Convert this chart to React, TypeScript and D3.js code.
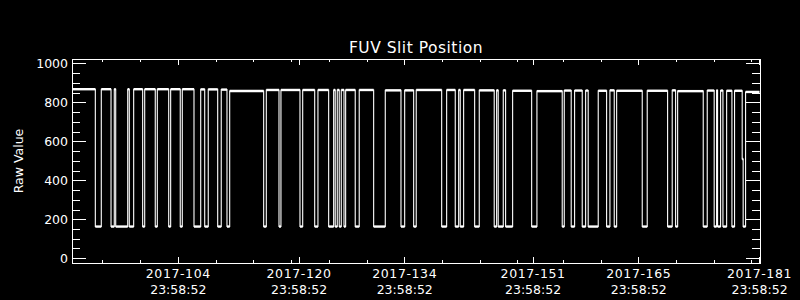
import React, { useEffect } from 'react';
import * as d3 from 'd3';

const YEAR = 2017;
const TICK_TIME_FRACTION = (23 * 3600 + 58 * 60 + 52) / 86400;
const majorTickDays = [104, 120, 134, 151, 165, 181];
const minorTickDays = [94, 99, 109, 114, 119, 124, 129, 139, 144, 149, 155, 160, 170, 175, 180];
const yMajorTicks = [0, 200, 400, 600, 800, 1000];
const yMinorTicks = [50, 100, 150, 250, 300, 350, 450, 500, 550, 650, 700, 750, 850, 900, 950];
const xDomainDoy = [90.92, 182.06];
const yDomain = [-22, 1025];

// step series: day-of-year (fractional) where each level starts, and its raw value
const stepStart = [
  90.92, 94.01, 94.8, 96.09, 96.52, 96.71, 98.3, 98.51, 99.09, 100.28,
  100.55, 101.95, 102.22, 103.73, 103.99, 105.26, 105.53, 107.08, 107.97, 108.5,
  108.97, 110.22, 110.69, 111.45, 111.81, 116.31, 116.66, 118.34, 118.6, 121.12,
  121.48, 123.07, 123.5, 124.92, 125.58, 125.79, 126.06, 126.32, 126.59, 126.95,
  127.17, 128.44, 128.97, 130.88, 132.42, 134.5, 134.99, 136.18, 136.52, 139.89,
  140.55, 141.69, 142.14, 142.35, 142.8, 144.26, 144.87, 146.85, 147.17, 147.38,
  148.05, 148.36, 149.29, 151.81, 152.51, 155.86, 156.13, 157.05, 157.5, 158.51,
  158.96, 159.3, 160.63, 161.74, 162.18, 162.75, 163.07, 166.46, 167.12, 169.82,
  170.43, 170.88, 171.15, 174.54, 175.07, 175.99, 176.31, 176.44, 176.84, 177.15,
  177.64, 178.34, 178.69, 179.7, 179.83, 180.15,
];
const stepValue = [
  870, 165, 870, 165, 870, 165, 870, 165, 870, 165,
  870, 165, 870, 165, 870, 165, 870, 165, 869, 165,
  869, 165, 868, 165, 861, 165, 866, 165, 866, 165,
  866, 165, 866, 165, 866, 165, 866, 165, 866, 165,
  866, 165, 866, 165, 864, 165, 864, 165, 866, 165,
  866, 165, 866, 165, 866, 165, 864, 165, 864, 165,
  864, 165, 862, 165, 860, 165, 863, 165, 863, 165,
  863, 165, 862, 165, 864, 165, 862, 165, 862, 165,
  864, 165, 860, 165, 863, 165, 864, 165, 863, 165,
  862, 165, 862, 512, 165, 856,
];
const seriesEnd = 181.98;

const doyToDate = (doy: number) => new Date(Date.UTC(YEAR, 0, 1) + (doy - 1) * 86400000);

const W = 800;
const H = 300;
const M = { left: 72, right: 40, top: 59, bottom: 37 };
const FONT = "'DejaVu Sans', sans-serif";

export default function App() {
  useEffect(() => {
    document.body.style.margin = '0';
    document.body.style.background = '#000';
  }, []);

  const x = d3
    .scaleUtc()
    .domain([doyToDate(xDomainDoy[0]), doyToDate(xDomainDoy[1])])
    .range([M.left, W - M.right]);
  const y = d3.scaleLinear().domain(yDomain).range([H - M.bottom, M.top]);

  const pts: [Date, number][] = stepStart.map((d, i) => [doyToDate(d), stepValue[i]]);
  pts.push([doyToDate(seriesEnd), stepValue[stepValue.length - 1]]);

  const line = d3
    .line<[Date, number]>()
    .x((d) => x(d[0]))
    .y((d) => y(d[1]))
    .curve(d3.curveStepAfter);

  const segs = stepStart.map((d, i) => ({
    x1: x(doyToDate(d)),
    x2: x(doyToDate(i + 1 < stepStart.length ? stepStart[i + 1] : seriesEnd)),
    y: y(stepValue[i]),
  }));

  const fmtDay = d3.utcFormat('%Y-%j');
  const fmtTime = d3.utcFormat('%H:%M:%S');

  const x0 = M.left;
  const x1 = W - M.right;
  const yTop = M.top;
  const yBot = H - M.bottom;

  return (
    <svg
      width={W}
      height={H}
      style={{ position: 'absolute', left: 0, top: 0, background: '#000', display: 'block' }}
    >
      <rect x={0} y={0} width={W} height={H} fill="#000" />
      <text
        x={(x0 + x1) / 2}
        y={52.5}
        fill="#fff"
        fontFamily={FONT}
        fontSize={15.5}
        letterSpacing={0.5}
        textAnchor="middle"
      >
        FUV Slit Position
      </text>
      <text
        transform={`translate(23,${(yTop + yBot) / 2}) rotate(-90)`}
        fill="#fff"
        fontFamily={FONT}
        fontSize={12.5}
        textAnchor="middle"
      >
        Raw Value
      </text>

      {/* data */}
      <path d={line(pts) || ''} fill="none" stroke="#fff" strokeWidth={1.1} />
      {segs.map((s, i) => (
        <line key={i} x1={s.x1} x2={s.x2} y1={s.y} y2={s.y} stroke="#fff" strokeWidth={2.4} />
      ))}

      {/* box */}
      <g shapeRendering="crispEdges" stroke="#fff" strokeWidth={1}>
        <rect x={x0} y={yTop} width={x1 - x0} height={yBot - yTop} fill="none" />
        {yMajorTicks.map((v) => (
          <g key={'ym' + v}>
            <line x1={x0} x2={x0 + 14} y1={y(v)} y2={y(v)} />
            <line x1={x1} x2={x1 - 14} y1={y(v)} y2={y(v)} />
          </g>
        ))}
        {yMinorTicks.map((v) => (
          <g key={'yn' + v}>
            <line x1={x0} x2={x0 + 8} y1={y(v)} y2={y(v)} />
            <line x1={x1} x2={x1 - 8} y1={y(v)} y2={y(v)} />
          </g>
        ))}
        {majorTickDays.map((d) => {
          const xx = x(doyToDate(d + TICK_TIME_FRACTION));
          return (
            <g key={'xm' + d}>
              <line x1={xx} x2={xx} y1={yBot} y2={yBot - 6} />
              <line x1={xx} x2={xx} y1={yTop} y2={yTop + 6} />
            </g>
          );
        })}
        {minorTickDays.map((d) => {
          const xx = x(doyToDate(d + TICK_TIME_FRACTION));
          return (
            <g key={'xn' + d}>
              <line x1={xx} x2={xx} y1={yBot} y2={yBot - 3} />
              <line x1={xx} x2={xx} y1={yTop} y2={yTop + 3} />
            </g>
          );
        })}
      </g>

      {/* y labels */}
      {yMajorTicks.map((v) => (
        <text
          key={'yl' + v}
          x={x0 - 4}
          y={y(v)}
          dy="0.36em"
          fill="#fff"
          fontFamily={FONT}
          fontSize={12.5}
          textAnchor="end"
        >
          {v}
        </text>
      ))}

      {/* x labels */}
      {majorTickDays.map((d) => {
        const dt = doyToDate(d + TICK_TIME_FRACTION);
        const xx = x(dt);
        return (
          <g key={'xl' + d} fill="#fff" fontFamily={FONT} fontSize={12.5} textAnchor="middle">
            <text x={xx} y={277.5} letterSpacing={0.6}>
              {fmtDay(dt)}
            </text>
            <text x={xx} y={293.5}>
              {fmtTime(dt)}
            </text>
          </g>
        );
      })}
    </svg>
  );
}
